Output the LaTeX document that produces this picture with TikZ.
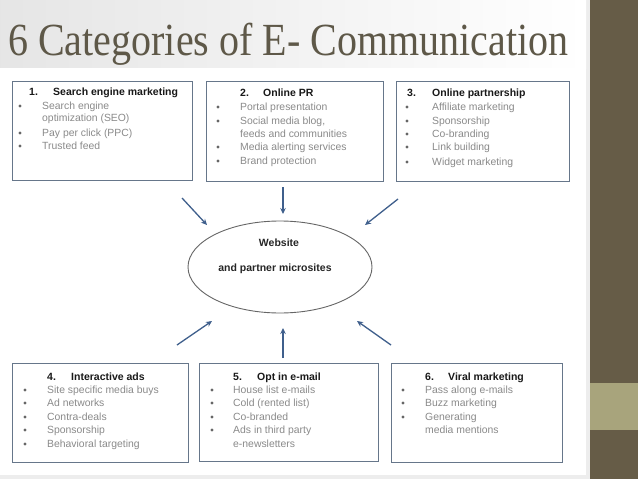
\documentclass[tikz,border=0pt]{standalone}
\usepackage{fontspec}
\setmainfont{Liberation Sans}
\newfontfamily\titlefont[FakeStretch=0.87]{Liberation Serif}
\usetikzlibrary{arrows.meta,shapes.geometric}
\definecolor{barbrown}{HTML}{665C47}
\definecolor{barlight}{HTML}{A8A47C}
\definecolor{titlecol}{HTML}{5E5848}
\definecolor{boxline}{HTML}{66768A}
\definecolor{arrowcol}{HTML}{3F5F8C}
\definecolor{itemgray}{HTML}{8A8A8A}
\definecolor{bggray}{HTML}{EDEDED}
\begin{document}
\begin{tikzpicture}[x=1pt,y=-1pt,
 catbox/.style={draw=boxline,line width=1.3pt},
 head/.style={anchor=base west,inner sep=0,font=\fontsize{10.5}{12}\selectfont\bfseries,text=black!90},
 item/.style={anchor=base west,inner sep=0,font=\fontsize{10.4}{12}\selectfont,text=itemgray},
 bul/.style={circle,fill=black!60,inner sep=0,minimum size=3.2pt},
 flow/.style={draw=arrowcol,line width=1.3pt,-{Stealth[length=6pt,width=5.5pt]}},
 inner/.style={inner sep=0,font=\fontsize{10.5}{12}\selectfont\bfseries,text=black!85}]
\useasboundingbox (0,0) rectangle (638,479);
% background
\fill[bggray] (0,0) rectangle (638,479);
\shade[left color=black!10,right color=white] (0,0) rectangle (586,68);
\fill[white] (0,68) rectangle (586,475);
\fill[barbrown] (590,0) rectangle (638,479);
\fill[barlight] (590,383) rectangle (638,430);
% title
\node[anchor=base west,inner sep=0,text=titlecol,font=\titlefont\fontsize{46}{50}\selectfont] (title) at (8,55) {6 Categories of E- Communication};
% boxes
\node[catbox,anchor=north west,minimum width=180pt,minimum height=99pt] (b1) at (12,81) {};
\node[catbox,anchor=north west,minimum width=177pt,minimum height=100pt] (b2) at (206,81) {};
\node[catbox,anchor=north west,minimum width=173pt,minimum height=100pt] (b3) at (396,81) {};
\node[catbox,anchor=north west,minimum width=176pt,minimum height=99pt] (b4) at (12,363) {};
\node[catbox,anchor=north west,minimum width=179pt,minimum height=98pt] (b5) at (199,363) {};
\node[catbox,anchor=north west,minimum width=171pt,minimum height=99pt] (b6) at (391,363) {};
% box 1
\node[head] (h1n) at (29,95) {1.};
\node[head] (h1t) at (53,95) {Search engine marketing};
\foreach \yy/\tt/\bb [count=\i] in {106/Search engine/1,118/optimization (SEO)/0,133/Pay per click (PPC)/1,146/Trusted feed/1}{
  \node[item] (i1-\i) at (42,\yy+3.7) {\tt};
  \ifnum\bb=1 \node[bul] (d1-\i) at (20,\yy) {};\fi
}
% box 2
\node[head] (h2n) at (240,96) {2.};
\node[head] (h2t) at (263,96) {Online PR};
\foreach \yy/\tt/\bb [count=\i] in {107/Portal presentation/1,121/{Social media blog,}/1,134/feeds and communities/0,147/Media alerting services/1,161/Brand protection/1}{
  \node[item] (i2-\i) at (240,\yy+3.7) {\tt};
  \ifnum\bb=1 \node[bul] (d2-\i) at (218,\yy) {};\fi
}
% box 3
\node[head] (h3n) at (407,96) {3.};
\node[head] (h3t) at (432,96) {Online partnership};
\foreach \yy/\tt [count=\i] in {107/Affiliate marketing,121/Sponsorship,134/Co-branding,147/Link building,162/Widget marketing}{
  \node[item] (i3-\i) at (432,\yy+3.7) {\tt};
  \node[bul] (d3-\i) at (407,\yy) {};
}
% box 4
\node[head] (h4n) at (47,380) {4.};
\node[head] (h4t) at (71,380) {Interactive ads};
\foreach \yy/\tt [count=\i] in {390/Site specific media buys,403/Ad networks,417/Contra-deals,430/Sponsorship,444/Behavioral targeting}{
  \node[item] (i4-\i) at (47,\yy+3.7) {\tt};
  \node[bul] (d4-\i) at (25,\yy) {};
}
% box 5
\node[head] (h5n) at (233,380) {5.};
\node[head] (h5t) at (257,380) {Opt in e-mail};
\foreach \yy/\tt/\bb [count=\i] in {390/House list e-mails/1,403/Cold (rented list)/1,417/Co-branded/1,430/Ads in third party/1,444/e-newsletters/0}{
  \node[item] (i5-\i) at (233,\yy+3.7) {\tt};
  \ifnum\bb=1 \node[bul] (d5-\i) at (212,\yy) {};\fi
}
% box 6
\node[head] (h6n) at (425,380) {6.};
\node[head] (h6t) at (448,380) {Viral marketing};
\foreach \yy/\tt/\bb [count=\i] in {390/Pass along e-mails/1,403/Buzz marketing/1,417/Generating/1,430/media mentions/0}{
  \node[item] (i6-\i) at (425,\yy+3.7) {\tt};
  \ifnum\bb=1 \node[bul] (d6-\i) at (403,\yy) {};\fi
}
% centre ellipse
\node[ellipse,draw=black!60,line width=0.9pt,minimum width=184pt,minimum height=92pt,inner sep=0] (web) at (280,267) {};
\node[inner] (w1) at (279,243) {Website};
\node[inner] (w2) at (275,269) {and partner microsites};
% arrows
\coordinate (a1s) at (182,198); \coordinate (a1e) at (207,225);
\coordinate (a2s) at (283,187); \coordinate (a2e) at (283,214);
\coordinate (a3s) at (398,199); \coordinate (a3e) at (365,225);
\coordinate (a4s) at (177,345); \coordinate (a4e) at (212,321);
\coordinate (a5s) at (283,358); \coordinate (a5e) at (283,328);
\coordinate (a6s) at (391,345); \coordinate (a6e) at (357,321);
\draw[flow] (a1s) -- (a1e);
\draw[flow] (a2s) -- (a2e);
\draw[flow] (a3s) -- (a3e);
\draw[flow] (a4s) -- (a4e);
\draw[flow] (a5s) -- (a5e);
\draw[flow] (a6s) -- (a6e);
\end{tikzpicture}
\end{document}
